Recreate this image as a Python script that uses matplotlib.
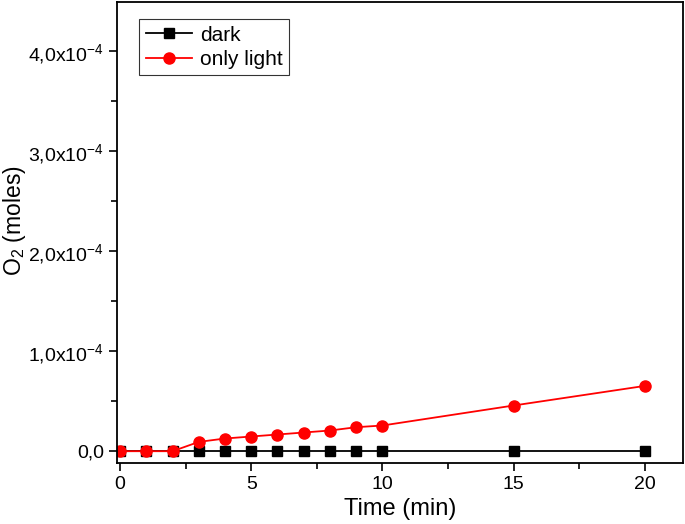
import numpy as np
import matplotlib.pyplot as plt
from matplotlib.ticker import MultipleLocator, FuncFormatter

plt.rcParams['font.family'] = ['Liberation Sans', 'DejaVu Sans']
plt.rcParams['mathtext.default'] = 'regular'

# data
time_min = [0, 1, 2, 3, 4, 5, 6, 7, 8, 9, 10, 15, 20]
dark = [0, 0, 0, 0, 0, 0, 0, 0, 0, 0, 0, 0, 0]
only_light = [0, 0, 0, 0.093e-4, 0.127e-4, 0.147e-4, 0.167e-4, 0.187e-4,
              0.207e-4, 0.24e-4, 0.257e-4, 0.457e-4, 0.653e-4]

fig = plt.figure(figsize=(6.85, 5.24), dpi=100)
ax = fig.add_axes([0.171, 0.116, 0.826, 0.880])

ax.plot(time_min, dark, '-s', color='black', ms=6.5, lw=1.3, label='dark')
ax.plot(time_min, only_light, '-o', color='red', mfc='red', mec='red',
        ms=8, lw=1.3, label='only light')

ax.set_xlim(-0.11, 21.45)
ax.set_ylim(-0.12e-4, 4.49e-4)

ax.xaxis.set_major_locator(MultipleLocator(5))
ax.xaxis.set_minor_locator(MultipleLocator(2.5))
ax.yaxis.set_major_locator(MultipleLocator(1e-4))
ax.yaxis.set_minor_locator(MultipleLocator(0.5e-4))


def yfmt(v, pos):
    if abs(v) < 1e-12:
        return '0,0'
    return (r'%.1f' % (v / 1e-4)).replace('.', ',') + r'x10$^{-4}$'


ax.yaxis.set_major_formatter(FuncFormatter(yfmt))
ax.tick_params(which='both', direction='out', top=False, right=False,
               labelsize=14, width=1.2)
ax.tick_params(which='major', length=6)
ax.tick_params(which='minor', length=4)
for s in ax.spines.values():
    s.set_linewidth(1.3)

ax.set_xlabel('Time (min)', fontsize=17, labelpad=3)
ax.set_ylabel(r'O$_2$ (moles)', fontsize=16.5)
ax.yaxis.set_label_coords(-0.158, 0.525)

leg = ax.legend(loc='upper left', bbox_to_anchor=(0.021, 0.985), fontsize=15,
                fancybox=False, edgecolor='black', handlelength=2.2,
                borderpad=0.3, labelspacing=0.25, handletextpad=0.4)
leg.get_frame().set_linewidth(0.8)

fig.savefig('out.png', dpi=100)
